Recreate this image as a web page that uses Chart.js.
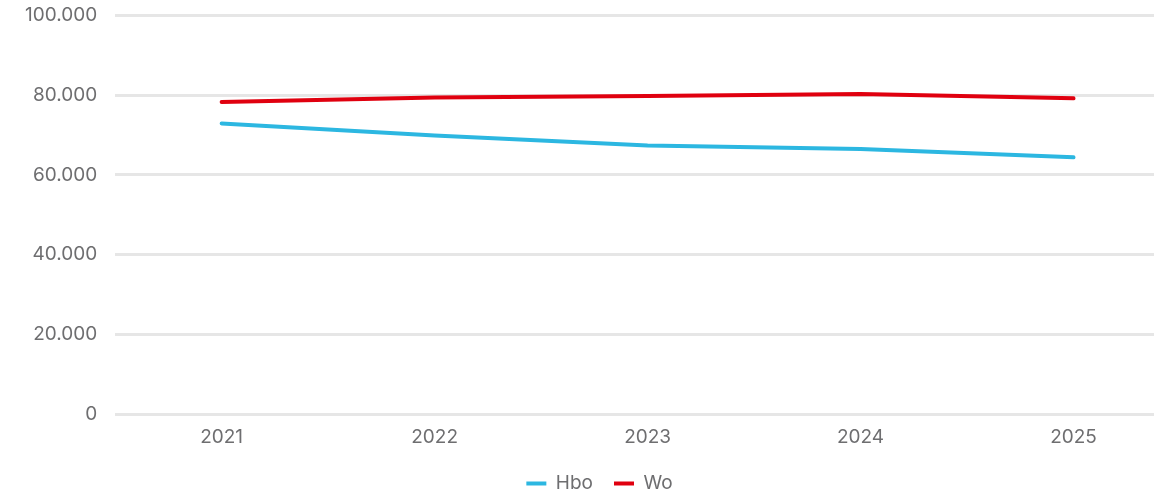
<!DOCTYPE html>
<html>
<head>
<meta charset="utf-8">
<script src="https://cdn.jsdelivr.net/npm/chart.js@4"></script>
<style>
  html, body { margin: 0; padding: 0; background: #fff; overflow: hidden; }
  #wrap { position: relative; top: -14px; width: 1213px; height: 517px; }
</style>
</head>
<body>
<div id="wrap"><canvas id="chart"></canvas></div>
<script>
// Data
const years = ['2021', '2022', '2023', '2024', '2025'];
const hbo = [72900, 69900, 67400, 66500, 64400];
const wo = [78300, 79400, 79800, 80300, 79200];

function dutch(n) {
  return String(n).replace(/\B(?=(\d{3})+(?!\d))/g, '.');
}

Chart.defaults.font.family = 'Inter';
Chart.defaults.font.size = 19;
Chart.defaults.color = '#6e6e70';

new Chart(document.getElementById('chart'), {
  type: 'line',
  data: {
    labels: years,
    datasets: [
      { label: 'Hbo', data: hbo, borderColor: '#2cb7e1', backgroundColor: '#2cb7e1', borderWidth: 4, pointRadius: 0, tension: 0, borderCapStyle: 'round' },
      { label: 'Wo', data: wo, borderColor: '#e0000f', backgroundColor: '#e0000f', borderWidth: 4, pointRadius: 0, tension: 0, borderCapStyle: 'round' }
    ]
  },
  options: {
    responsive: true,
    maintainAspectRatio: false,
    animation: false,
    layout: { padding: { top: 0, right: 33, left: 19, bottom: 0 } },
    scales: {
      x: {
        offset: true,
        grid: { display: false },
        border: { display: false },
        ticks: { padding: 4 }
      },
      y: {
        min: 0,
        max: 100000,
        ticks: { stepSize: 20000, padding: 18, callback: v => dutch(v) },
        grid: { color: '#e6e6e6', lineWidth: 3, drawTicks: false },
        border: { display: false },
        afterFit: s => { s.width -= 12; }
      }
    },
    plugins: {
      legend: {
        position: 'bottom',
        labels: {
          boxWidth: 20,
          boxHeight: 4,
          padding: 21,
          // flat colour bars, no outline
          generateLabels: chart => Chart.defaults.plugins.legend.labels.generateLabels(chart)
            .map(l => ({ ...l, lineWidth: 0 }))
        }
      },
      tooltip: { enabled: false }
    }
  }
});
</script>
</body>
</html>
